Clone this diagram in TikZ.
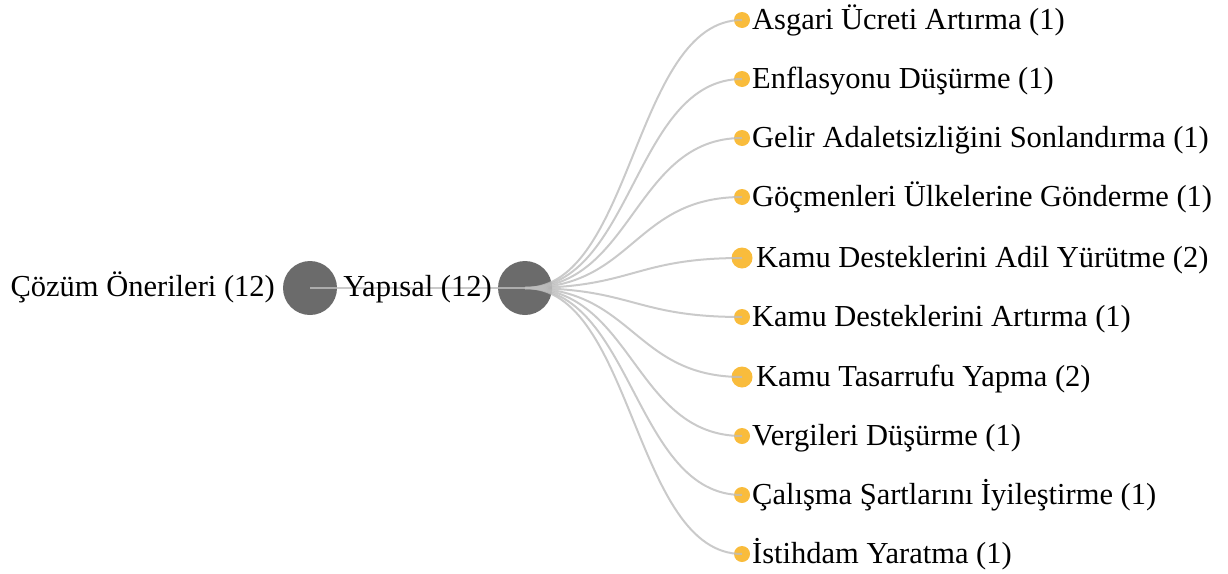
\documentclass[tikz,border=0pt]{standalone}
\usepackage{fontspec}
\setmainfont{Liberation Serif}
\usetikzlibrary{calc}
\definecolor{hub}{HTML}{6B6B6B}
\definecolor{leafc}{HTML}{F9BC3C}
\definecolor{linkc}{HTML}{BDBDBD}
\begin{document}
\begin{tikzpicture}[x=1pt,y=-1pt,
  hubnode/.style={circle,fill=hub,minimum size=54pt,inner sep=0pt},
  leafone/.style={circle,fill=leafc,minimum size=16pt,inner sep=0pt},
  leaftwo/.style={circle,fill=leafc,minimum size=21pt,inner sep=0pt},
  lbl/.style={font=\fontsize{30.5}{32}\selectfont,inner sep=0pt},
  lnk/.style={draw=linkc,line width=2pt,opacity=0.8}]
\useasboundingbox (0,0) rectangle (1228,573);
\node[hubnode] (root) at (310,288) {};
\node[hubnode] (yap) at (525,288) {};
\foreach \n/\y/\s in {a/20/leafone,b/79/leafone,c/138/leafone,d/197/leafone,e/258/leaftwo,f/317/leafone,g/377/leaftwo,h/436/leafone,i/495/leafone,j/554/leafone}{
  \node[\s] (\n) at (742,\y) {};
}
\draw[lnk] (root.center) -- (yap.center);
\foreach \n in {a,b,c,d,e,f,g,h,i,j}{
  \draw[lnk] (yap.center) .. controls ($(yap.center)!0.5!(yap.center-|\n.center)$) and ($(\n.center)!0.5!(\n.center-|yap.center)$) .. (\n.center);
}
\node[lbl,anchor=base east] (lroot) at (275,296) {Çözüm Önerileri (12)};
\node[lbl,anchor=base east] (lyap) at (492,296) {Yapısal (12)};
\foreach \n/\t in {a/Asgari Ücreti Artırma (1),b/Enflasyonu Düşürme (1),c/Gelir Adaletsizliğini Sonlandırma (1),d/Göçmenleri Ülkelerine Gönderme (1),f/Kamu Desteklerini Artırma (1),h/Vergileri Düşürme (1),i/Çalışma Şartlarını İyileştirme (1),j/İstihdam Yaratma (1)}{
  \node[lbl,anchor=base west] (t\n) at ([yshift=-9pt]\n.center-|752,0) {\t};
}
\foreach \n/\t in {e/Kamu Desteklerini Adil Yürütme (2),g/Kamu Tasarrufu Yapma (2)}{
  \node[lbl,anchor=base west] (t\n) at ([yshift=-9pt]\n.center-|756,0) {\t};
}
\end{tikzpicture}
\end{document}
